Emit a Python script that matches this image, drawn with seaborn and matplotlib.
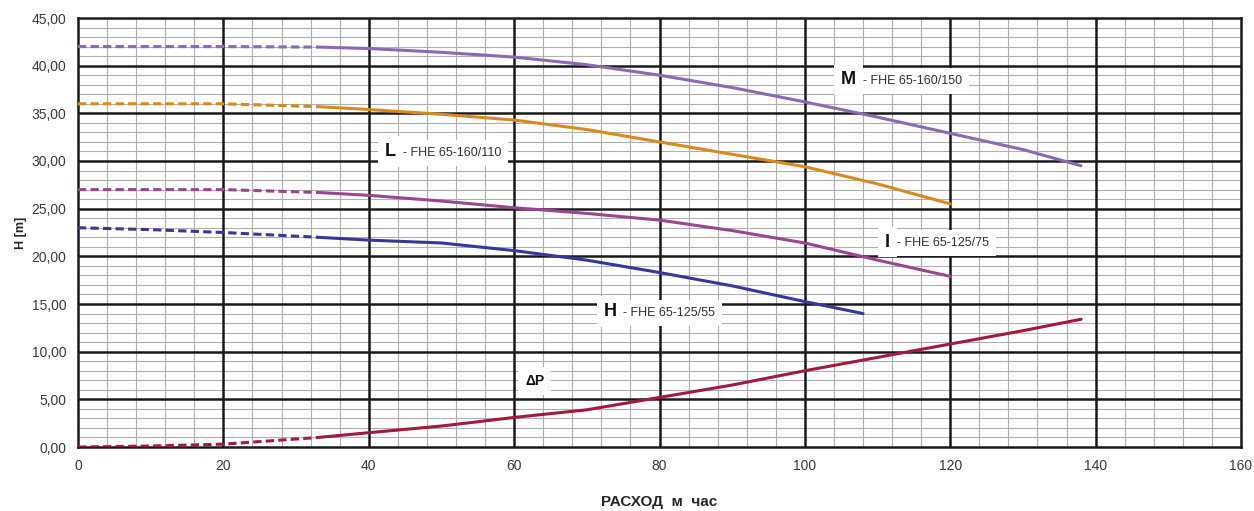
import numpy as np
import pandas as pd
import matplotlib
matplotlib.use("Agg")
import matplotlib.pyplot as plt
import seaborn as sns
from matplotlib.ticker import FuncFormatter

# ---- data ----
m_q_dash = [0, 10, 20, 33]
m_h_dash = [42, 42, 42, 41.95]
m_q = [33, 40, 50, 60, 70, 80, 90, 100, 110, 120, 130, 138]
m_h = [41.95, 41.8, 41.4, 40.9, 40.1, 39.0, 37.7, 36.2, 34.6, 32.9, 31.2, 29.5]

l_q_dash = [0, 10, 20, 33]
l_h_dash = [36, 36, 36, 35.7]
l_q = [33, 40, 50, 60, 70, 80, 90, 100, 110, 120]
l_h = [35.7, 35.4, 34.9, 34.3, 33.3, 32.0, 30.7, 29.4, 27.6, 25.5]

i_q_dash = [0, 10, 20, 33]
i_h_dash = [27, 27, 27, 26.7]
i_q = [33, 40, 50, 60, 70, 80, 90, 100, 110, 120]
i_h = [26.7, 26.4, 25.8, 25.1, 24.5, 23.8, 22.7, 21.4, 19.6, 17.9]

h_q_dash = [0, 10, 20, 33]
h_h_dash = [23, 22.8, 22.5, 22.0]
h_q = [33, 40, 50, 60, 70, 80, 90, 100, 108]
h_h = [22.0, 21.7, 21.4, 20.6, 19.6, 18.3, 16.9, 15.25, 14.0]

dp_q_dash = [0, 10, 20, 33]
dp_h_dash = [0.0, 0.1, 0.3, 1.0]
dp_q = [33, 40, 50, 60, 70, 80, 90, 100, 110, 120, 130, 138]
dp_h = [1.0, 1.5, 2.2, 3.1, 3.9, 5.2, 6.5, 8.0, 9.4, 10.8, 12.2, 13.4]

labels_letter = ["M", "L", "I", "H", "ΔP"]
labels_text = ["- FHE 65-160/150", "- FHE 65-160/110", "- FHE 65-125/75", "- FHE 65-125/55", ""]
label_q = [105.0, 42.2, 111.0, 72.3, 61.5]
label_h = [38.5, 31.0, 21.5, 14.2, 6.9]

x_ticks = [0, 20, 40, 60, 80, 100, 120, 140, 160]
y_ticks = [0, 5, 10, 15, 20, 25, 30, 35, 40, 45]
x_minor = list(range(0, 161, 4))
y_minor = list(range(0, 46, 1))
x_title = "РАСХОД  м  час"
y_title = "H [m]"

colors = ["#8b6ab5", "#d98a1e", "#9a4790", "#38379b", "#a21a3e"]

# ---- plot ----
sns.set_style("white")
plt.rcParams['font.family'] = ['Liberation Sans', 'DejaVu Sans']

fig = plt.figure(figsize=(12.54, 5.11), dpi=100)
ax = fig.add_axes([78/1254, 1-447/511, (1241-78)/1254, (447-18)/511])

series = [
    (m_q_dash, m_h_dash, m_q, m_h),
    (l_q_dash, l_h_dash, l_q, l_h),
    (i_q_dash, i_h_dash, i_q, i_h),
    (h_q_dash, h_h_dash, h_q, h_h),
    (dp_q_dash, dp_h_dash, dp_q, dp_h),
]
for (qd, hd, qs, hs), c in zip(series, colors):
    sns.lineplot(x=qd, y=hd, ax=ax, color=c, lw=2.2, linestyle=(0, (2.7, 1.4)), zorder=5)
    sns.lineplot(x=qs, y=hs, ax=ax, color=c, lw=2.2, zorder=5)

ax.set_xlim(0, 160)
ax.set_ylim(0, 45)
ax.set_xticks(x_ticks)
ax.set_yticks(y_ticks)
ax.set_xticks(x_minor, minor=True)
ax.set_yticks(y_minor, minor=True)
ax.yaxis.set_major_formatter(FuncFormatter(lambda v, p: f"{v:.2f}".replace(".", ",")))

ax.grid(which="minor", color="#b0b0b0", lw=0.8, zorder=1)
ax.grid(which="major", visible=False)
for xv in x_ticks[1:-1]:
    ax.axvline(xv, color="#1a1a1a", lw=1.8, zorder=2)
for yv in y_ticks[1:-1]:
    ax.axhline(yv, color="#1a1a1a", lw=1.8, zorder=2)
ax.set_axisbelow(True)
for s in ax.spines.values():
    s.set_color("#1a1a1a")
    s.set_linewidth(1.8)

ax.tick_params(axis="both", which="major", length=5, width=1.2, color="#1a1a1a",
               labelsize=10, labelcolor="#3a3a3a", direction="out")
ax.tick_params(which="minor", length=0)

ax.set_xlabel(x_title, fontsize=11, fontweight="bold", labelpad=16)
ax.set_ylabel(y_title, fontsize=9, fontweight="bold", labelpad=3)

for let, txt, q, h in zip(labels_letter, labels_text, label_q, label_h):
    t1 = ax.text(q, h, let, fontsize=13 if let != "ΔP" else 10, fontweight="bold",
                 ha="left", va="center", zorder=7, color="#111111",
                 bbox=dict(facecolor="white", edgecolor="none", pad=5))
    if txt:
        ax.annotate(txt, xy=(1, 0.42), xycoords=t1, xytext=(5, 0), textcoords="offset points",
                    fontsize=9, ha="left", va="center", color="#333333", zorder=8,
                    bbox=dict(facecolor="white", edgecolor="none", pad=5))

fig.savefig("out.png", dpi=100)
